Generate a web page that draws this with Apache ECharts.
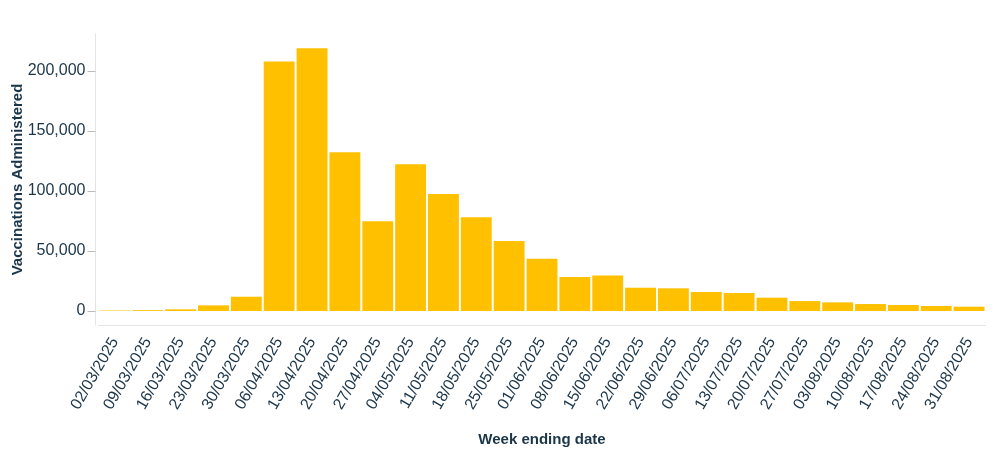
<!DOCTYPE html>
<html>
<head>
<meta charset="utf-8">
<script src="https://cdn.jsdelivr.net/npm/echarts@6/dist/echarts.min.js"></script>
<style>
  html, body { margin: 0; padding: 0; background: #fff; }
  #chart { width: 1000px; height: 466px; }
</style>
</head>
<body>
<div id="chart"></div>
<script>
const weeks = [
  "02/03/2025", "09/03/2025", "16/03/2025", "23/03/2025", "30/03/2025",
  "06/04/2025", "13/04/2025", "20/04/2025", "27/04/2025", "04/05/2025",
  "11/05/2025", "18/05/2025", "25/05/2025", "01/06/2025", "08/06/2025",
  "15/06/2025", "22/06/2025", "29/06/2025", "06/07/2025", "13/07/2025",
  "20/07/2025", "27/07/2025", "03/08/2025", "10/08/2025", "17/08/2025",
  "24/08/2025", "31/08/2025"
];
const vaccinations = [
  400, 700, 1400, 4700, 11900,
  208000, 219000, 132300, 74800, 122300,
  97500, 78100, 58300, 43500, 28400,
  29600, 19400, 18900, 15800, 15000,
  11100, 8300, 7200, 5800, 5000,
  4200, 3600
];
const yTicks = [0, 50000, 100000, 150000, 200000];

const textColor = "#1b3549";
const chart = echarts.init(document.getElementById("chart"));

chart.setOption({
  animation: false,
  textStyle: { fontFamily: "Liberation Sans, Arial, sans-serif" },
  grid: { left: 98.5, right: 14.5, top: 34, bottom: 141, outerBoundsMode: "none", containLabel: false },
  xAxis: {
    type: "category",
    data: weeks,
    name: "Week ending date",
    nameLocation: "middle",
    nameGap: 107,
    nameMoveOverlap: false,
    nameTextStyle: { color: textColor, fontSize: 15, fontWeight: "bold" },
    axisLine: { onZero: false, lineStyle: { color: "#e4e4e4", width: 1 } },
    axisTick: { alignWithLabel: true, length: 6, lineStyle: { color: "#bbb" } },
    axisLabel: { rotate: 60, margin: 14, fontSize: 16, color: textColor, interval: 0 }
  },
  yAxis: {
    type: "value",
    min: -11667,
    max: 230833,
    offset: 3,
    name: "Vaccinations Administered",
    nameLocation: "middle",
    nameGap: 70,
    nameMoveOverlap: false,
    nameTextStyle: { color: textColor, fontSize: 15, fontWeight: "bold" },
    axisLine: { show: true, lineStyle: { color: "#e4e4e4", width: 1 } },
    axisTick: { show: true, length: 8, customValues: yTicks, lineStyle: { color: "#bbb" } },
    axisLabel: {
      margin: 10,
      fontSize: 16,
      color: textColor,
      customValues: yTicks,
      formatter: v => v.toLocaleString("en-US")
    },
    splitLine: { show: false }
  },
  series: [{
    name: "Vaccinations Administered",
    type: "bar",
    data: vaccinations,
    barCategoryGap: "6%",
    itemStyle: { color: "#ffc000" }
  }]
});
</script>
</body>
</html>
